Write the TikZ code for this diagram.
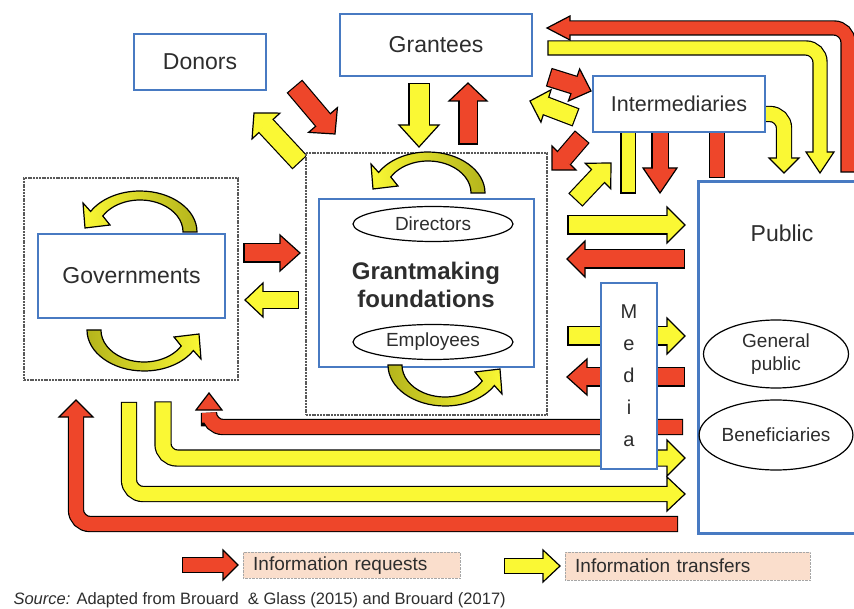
\documentclass[tikz,border=0pt]{standalone}
\usepackage{fontspec}
\setmainfont{Liberation Sans}
\usetikzlibrary{calc}
\usetikzlibrary{positioning, shapes}

\definecolor{askred}{RGB}{238,70,42}
\definecolor{giveyellow}{RGB}{250,248,52}
\definecolor{tailolive}{RGB}{180,180,28}
\definecolor{boxblue}{RGB}{72,122,194}
\definecolor{keybg}{RGB}{250,222,204}
\definecolor{ink}{RGB}{45,45,45}

\newlength\Edgewd
\setlength\Edgewd{1.2pt}

% block arrow: shaft width, head half width, colour, shaft up to head, head base, tip
\newcommand\Flow[6]{%
  \pgfmathsetlengthmacro\Outwd{#1+2.4}%
  \pgfmathsetlengthmacro\Backcut{(#1+2.4)/2}%
  \pgfmathsetlengthmacro\Frontcut{#1/2-1.5}%
  \draw[black, line width=\Outwd, line cap=rect, rounded corners=14pt,
    shorten >=\Backcut] #4 #5;
  \filldraw[fill=#3, draw=black, line width=\Edgewd]
    ($#5!#2pt!90:#6$) -- #6 -- ($#5!#2pt!-90:#6$) -- cycle;
  \draw[#3, line width=#1pt, line cap=rect, rounded corners=14pt,
    shorten >=\Frontcut] #4 #5;}

% bar without head
\newcommand\Stub[3]{%
  \pgfmathsetlengthmacro\Outwd{#1+2.4}%
  \draw[black, line width=\Outwd, line cap=rect] #3;
  \draw[#2, line width=#1pt, line cap=rect] #3;}

% curved arrow turning inside a group: centre, rotation, left and right colour
\newcommand\Turn[4]{%
  \begin{scope}[shift={#1}, rotate=#2]
    \draw[line width=\Edgewd, left color=#3, right color=#4]
      (57,0) arc[start angle=0, end angle=-150, x radius=57, y radius=41]
      -- (-57,-29) -- (-55,-4) -- (-30,-7) -- (-37.2,-16)
      arc[start angle=-150, end angle=0, x radius=43, y radius=32] -- cycle;
  \end{scope}}

\begin{document}
\begin{tikzpicture}[x=1pt, y=-1pt, text=ink,
boxed/.style={
  draw=boxblue, line width=2.6pt, fill=white, inner sep=0pt,
  font=\fontsize{23}{27}\selectfont},
dotbox/.style={
  draw=black!65, line width=1.8pt, dash pattern=on 2pt off 0.8pt,
  fill=white, inner sep=0pt},
oval/.style={
  ellipse, draw=black, line width=1.2pt, fill=white, inner sep=0pt,
  align=center, font=\fontsize{19}{23}\selectfont},
keybox/.style={
  draw=black!35, densely dotted, fill=keybg, anchor=north west,
  inner xsep=10pt, inner ysep=0pt, minimum height=26pt, align=left,
  font=\fontsize{19}{23}\selectfont}]
\useasboundingbox (0,0) rectangle (854,609);

% donors and grantees
\Flow{18}{19}{askred}{(301,94) --}{(323,120)}{(335,134)}
\Flow{18}{19}{giveyellow}{(293,155) --}{(266,126)}{(254,113)}
\Flow{19}{20}{giveyellow}{(419,94) --}{(419,125)}{(419,147)}
\Flow{17}{19}{askred}{(468,135) --}{(468,101)}{(468,83)}

% intermediaries
\Flow{17}{17}{askred}{(558,80) --}{(574,85)}{(591,91)}
\Flow{17}{17}{giveyellow}{(567,114) --}{(546,106)}{(530,101)}
\Flow{17}{17}{askred}{(576,144) --}{(564,158)}{(552,170)}
\Flow{17}{18}{giveyellow}{(582,193) --}{(598,176)}{(611,163)}
\Stub{13}{giveyellow}{(628,120) -- (628,186)}
\Flow{15}{17}{askred}{(660,125) --}{(660,168)}{(660,193)}
\Stub{14}{askred}{(717,125) -- (717,170)}
\Flow{14}{15}{giveyellow}{(760,114) -|}{(784,158)}{(784,173)}

% public, top
\Flow{13}{12}{askred}{(848,165) |-}{(570,28)}{(547,28)}
\Flow{13}{14}{giveyellow}{(555,48) -|}{(820,152)}{(820,173)}

% public and media
\Flow{17}{18}{giveyellow}{(577,225) --}{(667,225)}{(685,225)}
\Flow{17}{18}{askred}{(675,259) --}{(585,259)}{(567,259)}
\Flow{17}{18}{giveyellow}{(577,336) --}{(667,336)}{(685,336)}
\Flow{17}{18}{askred}{(675,377) --}{(587,377)}{(567,377)}

% public, bottom
\Flow{14}{13}{askred}{(675,427) -|}{(209,410)}{(209,393)}
\Flow{15}{18}{giveyellow}{(163,410) |-}{(667,458)}{(685,458)}
\Flow{14}{17}{giveyellow}{(129,410) |-}{(667,494)}{(685,494)}
\Flow{14}{17}{askred}{(670,524) -|}{(76,417)}{(76,400)}

% governments
\Flow{17}{18}{askred}{(253,253) --}{(280,253)}{(300,253)}
\Flow{16}{17}{giveyellow}{(290,300) --}{(263,300)}{(245,300)}

\node[dotbox, minimum width=214pt, minimum height=202pt] (govzone) at (131,279) {};
\node[boxed, minimum width=187pt, minimum height=84pt] (gov) at (131.5,276) {Governments};

\node[dotbox, minimum width=241pt, minimum height=262pt] (fndzone) at (426.5,284) {};
\node[boxed, minimum width=215pt, minimum height=168pt] (fnd) at (426.5,283) {};
\node[oval, minimum width=160pt, minimum height=35pt] (directors) at (433,224) {Directors};
\node[font=\bfseries\fontsize{24}{28}\selectfont, align=center] (fndname) at (426,285) {Grantmaking\\foundations};
\node[oval, minimum width=160pt, minimum height=35pt] (employees) at (433,342) {Employees};

\node[boxed, minimum width=132pt, minimum height=56pt] (donors) at (200,62) {Donors};
\node[boxed, minimum width=192pt, minimum height=62pt] (grantees) at (436,45) {Grantees};
\node[boxed, minimum width=172pt, minimum height=56pt,
  font=\fontsize{21.5}{25}\selectfont] (inter) at (679,104) {Intermediaries};

\node[boxed, minimum width=180pt, minimum height=352pt, anchor=north west] (public) at (697,180) {};
\node[font=\fontsize{23}{27}\selectfont] (publicname) at (782,233) {Public};
\node[oval, minimum width=145pt, minimum height=68pt] (genpub) at (776,354) {General\\public};
\node[oval, minimum width=145pt, minimum height=70pt] (benef) at (776,435) {Beneficiaries};

\node[boxed, minimum width=56pt, minimum height=186pt, align=center,
  font=\fontsize{20}{32}\selectfont] (media) at (629,376) {M\\e\\d\\i\\a};

\Turn{(140,232)}{0}{giveyellow}{tailolive}
\Turn{(144,330)}{180}{tailolive}{giveyellow}
\Turn{(428,193)}{0}{giveyellow}{tailolive}
\Turn{(445,365)}{180}{tailolive}{giveyellow}

% key
\Flow{14}{15}{askred}{(190,565) --}{(223,565)}{(238,565)}
\node[keybox, text width=197pt] (askkey) at (243,552) {Information requests};
\Flow{14}{16}{giveyellow}{(512,566) --}{(543,566)}{(560,566)}
\node[keybox, text width=225pt, minimum height=28pt] (givekey) at (565,552) {Information transfers};

\node[anchor=base west, font=\fontsize{16.5}{19}\selectfont] (source) at (10,604)
  {\textit{Source:} Adapted from Brouard\ \ \& Glass (2015) and Brouard (2017)};
\end{tikzpicture}
\end{document}
